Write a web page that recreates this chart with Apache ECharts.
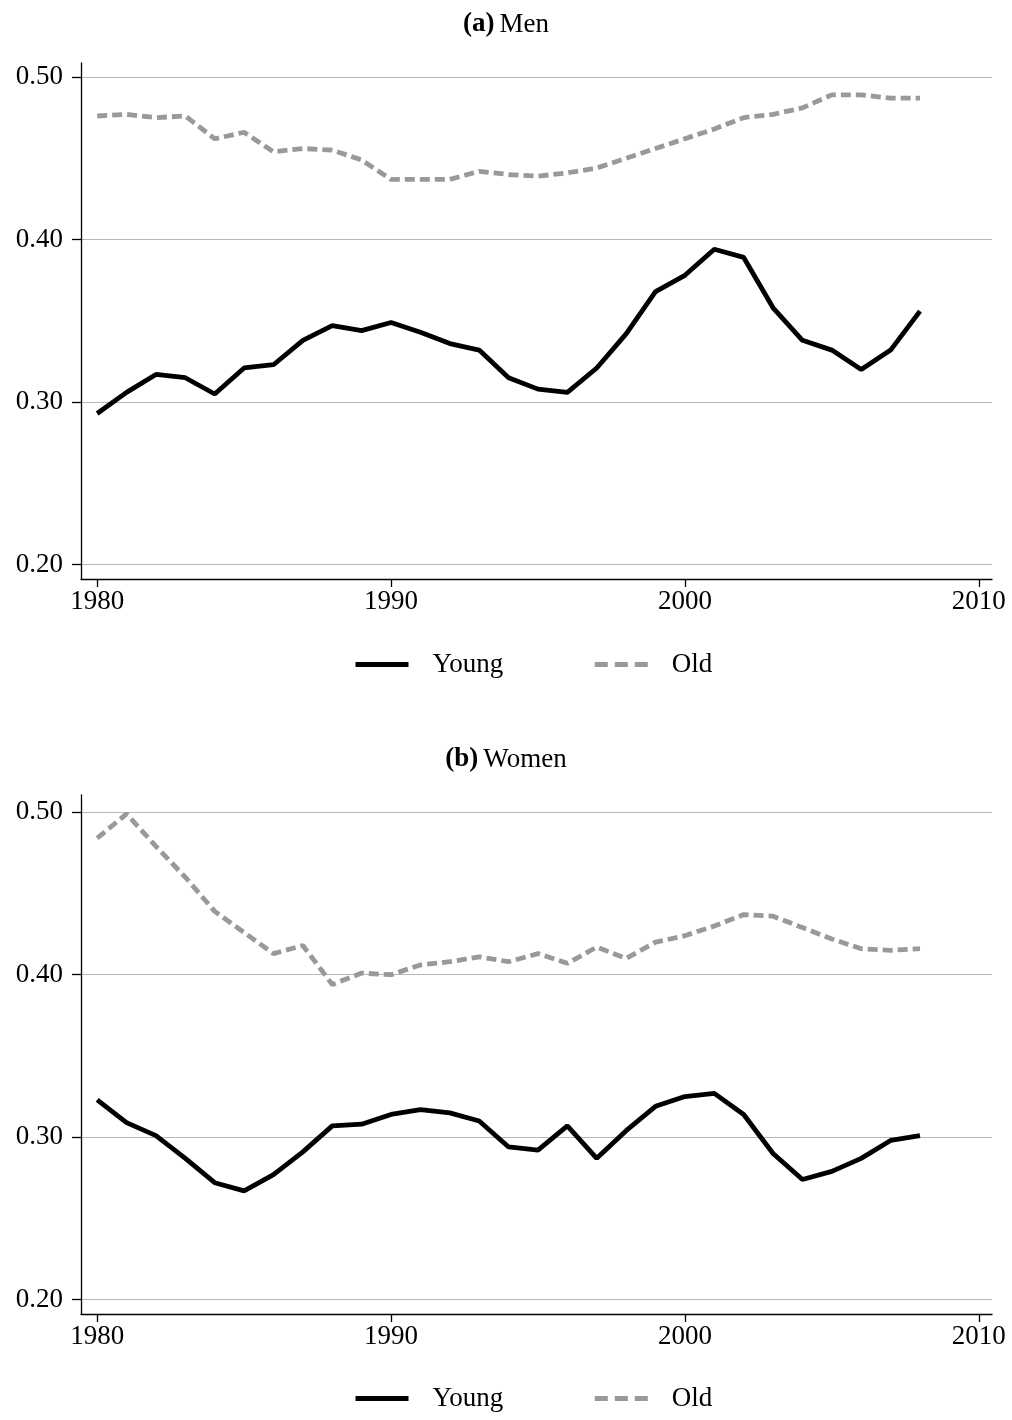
<!DOCTYPE html>
<html>
<head>
<meta charset="utf-8">
<script src="https://cdn.jsdelivr.net/npm/echarts@6/dist/echarts.min.js"></script>
<style>
  html, body { margin: 0; padding: 0; background: #fff; }
  #chart { width: 1012px; height: 1420px; }
</style>
</head>
<body>
<div id="chart"></div>
<script>
// years on the x axis
const years = [1980, 1981, 1982, 1983, 1984, 1985, 1986, 1987, 1988, 1989,
               1990, 1991, 1992, 1993, 1994, 1995, 1996, 1997, 1998, 1999,
               2000, 2001, 2002, 2003, 2004, 2005, 2006, 2007, 2008];

// (a) Men
const menYoung = [0.293, 0.306, 0.317, 0.315, 0.305, 0.321, 0.323, 0.338, 0.347, 0.344,
                  0.349, 0.343, 0.336, 0.332, 0.315, 0.308, 0.306, 0.321, 0.342, 0.368,
                  0.378, 0.394, 0.389, 0.358, 0.338, 0.332, 0.320, 0.332, 0.356];
const menOld = [0.476, 0.477, 0.475, 0.476, 0.462, 0.466, 0.454, 0.456, 0.455, 0.449,
                0.437, 0.437, 0.437, 0.442, 0.440, 0.439, 0.441, 0.444, 0.450, 0.456,
                0.462, 0.468, 0.475, 0.477, 0.481, 0.489, 0.489, 0.487, 0.487];

// (b) Women
const womenYoung = [0.323, 0.309, 0.301, 0.287, 0.272, 0.267, 0.277, 0.291, 0.307, 0.308,
                    0.314, 0.317, 0.315, 0.310, 0.294, 0.292, 0.307, 0.287, 0.304, 0.319,
                    0.325, 0.327, 0.314, 0.290, 0.274, 0.279, 0.287, 0.298, 0.301];
const womenOld = [0.484, 0.499, 0.479, 0.460, 0.439, 0.426, 0.413, 0.418, 0.394, 0.401,
                  0.400, 0.406, 0.408, 0.411, 0.408, 0.413, 0.407, 0.417, 0.410, 0.420,
                  0.424, 0.430, 0.437, 0.436, 0.429, 0.422, 0.416, 0.415, 0.416];

const xTicks = [1980, 1990, 2000, 2010];
const yTicks = [0.2, 0.3, 0.4, 0.5];
const seriesNames = ['Young', 'Old'];

const FONT = 'Liberation Serif';
const FS = 27;

function pairs(vals) {
    return years.map((y, i) => [y, vals[i]]);
}

function makeX(idx) {
    return {
        type: 'value', gridIndex: idx,
        min: 1979.45, max: 2010.45,
        axisLine: { show: true, lineStyle: { color: '#000', width: 1.3 } },
        axisTick: { show: true, customValues: xTicks, length: 8, lineStyle: { color: '#000', width: 1.3 } },
        axisLabel: { customValues: xTicks, margin: 9, color: '#000', fontFamily: FONT, fontSize: FS,
                     formatter: v => String(v) },
        splitLine: { show: false }
    };
}

function makeY(idx, min, max) {
    return {
        type: 'value', gridIndex: idx,
        min: min, max: max,
        axisLine: { show: true, lineStyle: { color: '#000', width: 1.3 } },
        axisTick: { show: true, customValues: yTicks, length: 9, lineStyle: { color: '#000', width: 1.3 } },
        axisLabel: { customValues: yTicks, margin: 18, color: '#000', fontFamily: FONT, fontSize: FS,
                     formatter: v => v.toFixed(2) },
        splitLine: { show: true, lineStyle: { color: '#b8b8b8', width: 1.2 } }
    };
}

function youngLine(idx, vals) {
    return {
        name: 'Young', type: 'line', xAxisIndex: idx, yAxisIndex: idx,
        data: pairs(vals), symbol: 'none', animation: false,
        lineStyle: { color: '#000', width: 4.8 }, itemStyle: { color: '#000' }
    };
}

function oldLine(idx, vals) {
    return {
        name: 'Old', type: 'line', xAxisIndex: idx, yAxisIndex: idx,
        data: pairs(vals), symbol: 'none', animation: false,
        lineStyle: { color: '#999', width: 4.8, type: [10, 5] }, itemStyle: { color: '#999' }
    };
}

function makeLegend(top) {
    return {
        data: [
            { name: 'Young', lineStyle: { width: 5, color: '#000' } },
            { name: 'Old', lineStyle: { width: 5, color: '#999', type: [13, 7] } }
        ],
        left: 348, top: top,
        itemWidth: 53, itemHeight: 14, itemGap: 89,
        itemStyle: { opacity: 0 },
        textStyle: { fontFamily: FONT, fontSize: FS, color: '#000', padding: [0, 0, 0, 19] },
        selectedMode: false
    };
}

function makeTitle(top, tag, word) {
    return {
        text: '{b|(' + tag + ')} {n|' + word + '}',
        left: 'center', top: top,
        textStyle: {
            fontWeight: 'normal',
            rich: {
                b: { fontFamily: FONT, fontSize: FS, fontWeight: 'bold', color: '#000' },
                n: { fontFamily: FONT, fontSize: FS, fontWeight: 'normal', color: '#000' }
            }
        }
    };
}

const chart = echarts.init(document.getElementById('chart'), null, { renderer: 'canvas' });

const option = {
    backgroundColor: '#fff',
    animation: false,
    title: [makeTitle(6, 'a', 'Men'), makeTitle(741, 'b', 'Women')],
    legend: [makeLegend(646), makeLegend(1380)],
    grid: [
        { left: 81, top: 63, width: 911, height: 516, containLabel: false },
        { left: 81, top: 795, width: 911, height: 519, containLabel: false }
    ],
    xAxis: [makeX(0), makeX(1)],
    yAxis: [makeY(0, 0.1912, 0.5086), makeY(1, 0.1912, 0.5106)],
    series: [
        youngLine(0, menYoung), oldLine(0, menOld),
        youngLine(1, womenYoung), oldLine(1, womenOld)
    ]
};

chart.setOption(option);
</script>
</body>
</html>
